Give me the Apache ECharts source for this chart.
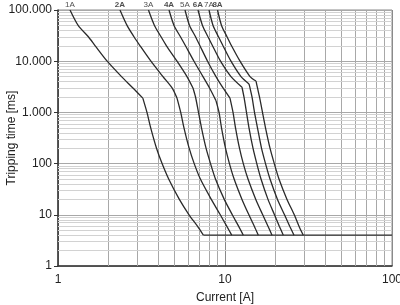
<!DOCTYPE html>
<html><head><meta charset="utf-8">
<script src="https://cdn.jsdelivr.net/npm/echarts@6/dist/echarts.min.js"></script>
<style>html,body{margin:0;padding:0;background:#fff}#c{width:400px;height:305px}</style>
</head><body><div id="c"></div>
<script>
// Fuse ratings (curve labels)
const ratings = ['1A','2A','3A','4A','5A','6A','7A','8A'];
const boldRatings = ['2A','4A','6A','8A'];

// Current [A] and tripping time [ms] for each curve
const current_1A = [1.18,1.32,1.52,1.67,1.97,2.40,2.81,3.22,3.41,3.59,3.89,4.20,4.60,5.33,6.09,6.84,7.42,100];
const time_1A    = [100000,50000,30000,20000,10000,5000,3000,1900,1000,500,200,100,50,20,10,6,4,4];

const current_2A = [2.35,2.59,2.85,3.10,3.60,4.25,4.82,5.16,5.43,5.68,6.10,6.54,7.12,8.28,9.37,10.24,10.97];
const time_2A    = [100000,50000,30000,20000,10000,5000,3000,1900,1000,500,200,100,50,20,10,6,4];

const current_3A = [3.48,3.78,4.14,4.46,5.16,5.92,6.43,6.66,6.94,7.23,7.70,8.19,8.77,9.90,11.06,12.06,12.87];
const time_3A    = [100000,50000,30000,20000,10000,5000,3000,2000,1000,500,200,100,50,20,10,6,4];

const current_4A = [4.62,4.95,5.41,5.80,6.52,7.38,8.08,8.83,9.21,9.53,10.07,10.63,11.34,12.64,13.90,14.98,15.83];
const time_4A    = [100000,50000,30000,20000,10000,5000,3000,1700,1000,500,200,100,50,20,10,6,4];

const current_5A = [5.76,6.13,6.66,7.08,7.86,8.83,9.73,10.71,11.17,11.56,12.21,12.87,13.73,15.29,16.82,18.09,19.12];
const time_5A    = [100000,50000,30000,20000,10000,5000,3000,1900,1000,500,200,100,50,20,10,6,4];

const current_6A = [6.89,7.33,7.91,8.42,9.40,10.86,12.64,12.99,13.45,13.92,14.71,15.50,16.43,18.09,19.79,21.14,22.34];
const time_6A    = [100000,50000,30000,20000,10000,5000,3100,2000,1000,500,200,100,50,20,10,6,4];

const current_7A = [8.02,8.48,9.14,9.73,10.86,12.47,13.92,14.12,14.51,15.02,15.65,16.54,17.48,18.60,20.62,22.72,24.40,25.89];
const time_7A    = [100000,50000,30000,20000,10000,5000,3600,3000,2000,1000,500,200,100,50,20,10,6,4];

const current_8A = [9.02,9.53,10.28,10.94,12.30,14.12,15.34,15.65,16.09,16.77,17.48,18.60,19.73,21.05,23.51,26.00,27.74,29.43];
const time_8A    = [100000,50000,30000,20000,10000,5000,4100,3000,2000,1000,500,200,100,50,20,10,6,4];

// Index of the knee point (change of slope) in each curve
const kneeIndex = [7,7,6,7,7,6,6,6];
// Common 4 ms floor: from the end of the 1A curve out to 100 A
const floorCurrent = [7.42,100];
const floorTime = [4,4];

// Axis tick labels and minor grid positions
const yTickValues = [1,10,100,1000,10000,100000];
const yTickLabels = ['1','10','100','1.000','10.000','100.000'];
const xTickValues = [1,10,100];
const xTickLabels = ['1','10','100'];
const minorCurrentTicks = [2,3,4,5,6,7,8,9,20,30,40,50,60,70,80,90];
const minorTimeTicks = [2,3,4,5,6,7,8,9,20,30,40,50,60,70,80,90,200,300,400,500,600,700,800,900,
  2000,3000,4000,5000,6000,7000,8000,9000,20000,30000,40000,50000,60000,70000,80000,90000];

const curveCurrents = [current_1A,current_2A,current_3A,current_4A,current_5A,current_6A,current_7A,current_8A];
const curveTimes = [time_1A,time_2A,time_3A,time_4A,time_5A,time_6A,time_7A,time_8A];

const FONT = 'Liberation Sans, Arial, sans-serif';
function lookupLabel(vals, labels, v){
  for (let i=0;i<vals.length;i++){ if (Math.abs(Math.log10(v)-Math.log10(vals[i]))<1e-6) return labels[i]; }
  return '';
}
const LINE = {color:'#2a2a2a', width:1.3};
function seg(name, cur, tim, from, to){
  const d=[];
  for (let j=from;j<=to;j++) d.push([cur[j], tim[j]]);
  return {type:'line', name:name, symbol:'none', silent:true, animation:false, z:10, clip:true,
    smooth:0.25, lineStyle:LINE, data:d};
}
const lineSeries = [];
ratings.forEach((r,i)=>{
  const cur=curveCurrents[i], tim=curveTimes[i];
  let last=cur.length-1;
  while (tim[last-1]===tim[last]) last--; // stop at the floor
  lineSeries.push(seg(r+' upper', cur, tim, 0, kneeIndex[i]));
  lineSeries.push(seg(r+' lower', cur, tim, kneeIndex[i], last));
});
lineSeries.push({type:'line', name:'floor', symbol:'none', silent:true, animation:false, z:10,
  lineStyle:LINE, data: floorCurrent.map((c,j)=>[c, floorTime[j]])});

const labelSeries = {
  type:'scatter', silent:true, animation:false, z:2,
  symbol:'circle', symbolSize:1, itemStyle:{color:'rgba(0,0,0,0)'},
  data: ratings.map((r,i)=>({
    value:[curveCurrents[i][0], curveTimes[i][0]],
    label:{show:true, formatter:r, position:'top', distance:1, fontSize:8,
      fontFamily:FONT, color:'#222', fontWeight: boldRatings.includes(r)?'bold':'normal'}
  })),
  markLine:{
    silent:true, animation:false, z:1, symbol:['none','none'], label:{show:false},
    data: minorCurrentTicks.map(v=>({xAxis:v, lineStyle:{color:'#a8a8a8', width:1, type:'solid'}}))
      .concat(minorTimeTicks.map(v=>({yAxis:v, lineStyle:{color:'#d2d2d2', width:1, type:'solid'}})))
  }
};

const chart = echarts.init(document.getElementById('c'), null, {renderer:'canvas'});
chart.setOption({
  animation:false,
  backgroundColor:'#fff',
  grid:{left:58, right:8, top:10, bottom:39, show:true, borderColor:'#8a8a8a', borderWidth:1,
    containLabel:false, outerBoundsMode:'none'},
  xAxis:{
    type:'log', logBase:10, min:1, max:100,
    name:'Current [A]', nameLocation:'middle', nameGap:26, nameMoveOverlap:false,
    nameTextStyle:{fontSize:12, color:'#222', fontFamily:FONT},
    axisLine:{show:true, onZero:false, lineStyle:{color:'#333', width:1.5}},
    axisTick:{show:false},
    axisLabel:{fontSize:12, color:'#222', fontFamily:FONT, margin:8,
      formatter:v=>lookupLabel(xTickValues,xTickLabels,v)},
    splitLine:{show:true, lineStyle:{color:'#8a8a8a', width:1}}
  },
  yAxis:{
    type:'log', logBase:10, min:1, max:100000,
    name:'Tripping time [ms]', nameLocation:'middle', nameGap:40, nameMoveOverlap:false,
    nameTextStyle:{fontSize:12, color:'#222', fontFamily:FONT},
    axisLine:{show:true, onZero:false, lineStyle:{color:'#333', width:1.5}},
    axisTick:{show:true, length:4, lineStyle:{color:'#333'}},
    axisLabel:{fontSize:12, color:'#222', fontFamily:FONT, margin:6,
      formatter:v=>lookupLabel(yTickValues,yTickLabels,v)},
    splitLine:{show:true, lineStyle:{color:'#a8a8a8', width:1}}
  },
  series: [labelSeries].concat(lineSeries)
});
</script>
</body></html>
